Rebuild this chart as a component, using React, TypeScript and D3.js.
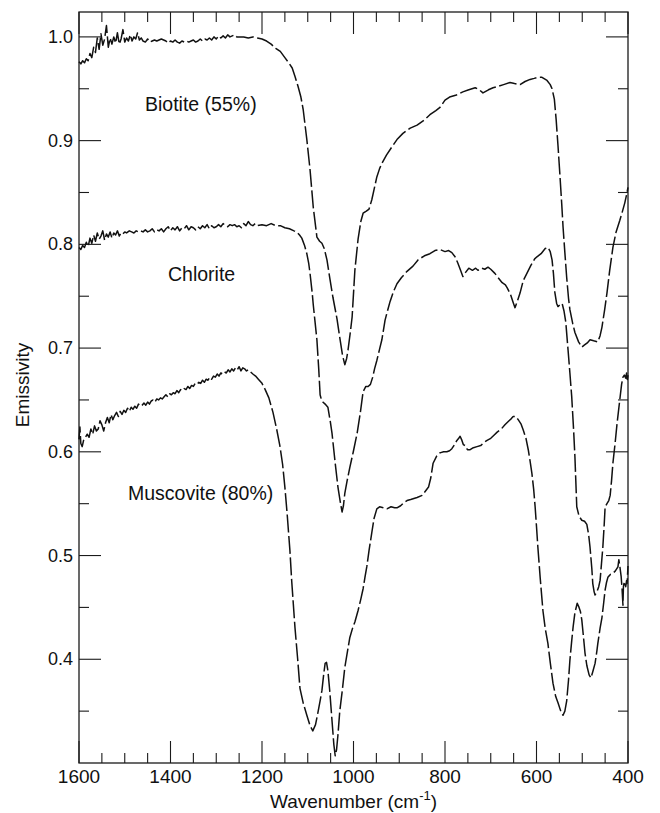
import React from "react";
import * as d3 from "d3";

// Emissivity spectra of three sheet silicates: [wavenumber (cm-1), emissivity]
const biotite: [number, number][] = [
  [1600, 0.976], [1596, 0.974], [1592, 0.977], [1588, 0.975], [1584, 0.979], [1580, 0.977],
  [1576, 0.984], [1572, 0.98], [1568, 0.99], [1564, 0.985], [1560, 0.999], [1556, 0.988],
  [1552, 1.003], [1548, 0.992], [1544, 0.998], [1540, 1.011], [1536, 0.99], [1532, 0.999],
  [1528, 0.993], [1524, 1.0], [1520, 0.994], [1516, 1.004], [1512, 0.993], [1508, 0.998],
  [1504, 1.007], [1500, 0.995], [1496, 0.999], [1492, 0.996], [1488, 1.002], [1484, 0.996],
  [1480, 1.0], [1476, 0.998], [1472, 1.004], [1468, 0.997], [1464, 0.999], [1460, 0.996],
  [1455, 0.995], [1450, 0.998], [1445, 0.995], [1440, 0.996], [1435, 0.997], [1430, 0.996],
  [1425, 0.997], [1420, 0.998], [1415, 0.997], [1410, 0.996], [1405, 0.994], [1400, 0.996],
  [1395, 0.995], [1390, 0.997], [1385, 0.995], [1380, 0.994], [1375, 0.996], [1370, 0.995],
  [1365, 0.996], [1360, 0.995], [1355, 0.996], [1350, 0.997], [1345, 0.995], [1340, 0.996],
  [1335, 0.998], [1330, 0.996], [1325, 0.998], [1320, 0.997], [1315, 0.999], [1310, 0.997],
  [1305, 1.0], [1300, 0.998], [1295, 1.001], [1290, 0.999], [1285, 1.001], [1280, 0.999],
  [1275, 1.002], [1270, 1.0], [1265, 1.001], [1260, 1.002], [1255, 1.0], [1250, 1.0],
  [1240, 1.0], [1230, 0.999], [1220, 1.0], [1210, 0.999], [1200, 0.998], [1190, 0.996],
  [1180, 0.993], [1170, 0.989], [1160, 0.986], [1150, 0.98], [1140, 0.974], [1134, 0.97],
  [1128, 0.962], [1121, 0.952], [1115, 0.942], [1110, 0.93], [1102, 0.901], [1095, 0.872],
  [1088, 0.836], [1080, 0.807], [1074, 0.803], [1069, 0.801], [1064, 0.796], [1058, 0.785],
  [1052, 0.768], [1045, 0.749], [1036, 0.728], [1030, 0.71], [1024, 0.693], [1019, 0.684],
  [1015, 0.69], [1012, 0.698], [1007, 0.715], [1003, 0.73], [997, 0.775], [990, 0.805],
  [984, 0.822], [979, 0.83], [972, 0.832], [966, 0.834], [960, 0.843], [955, 0.853],
  [949, 0.865], [943, 0.873], [938, 0.878], [928, 0.886], [916, 0.894], [905, 0.901],
  [892, 0.907], [876, 0.912], [861, 0.915], [845, 0.92], [833, 0.925], [820, 0.929],
  [811, 0.932], [800, 0.939], [790, 0.942], [775, 0.944], [761, 0.947], [748, 0.949],
  [734, 0.951], [725, 0.949], [717, 0.946], [705, 0.949], [695, 0.951], [686, 0.952],
  [672, 0.954], [658, 0.956], [648, 0.955], [636, 0.954], [625, 0.957], [614, 0.959],
  [605, 0.96], [597, 0.961], [588, 0.961], [577, 0.958], [570, 0.954], [566, 0.95],
  [561, 0.94], [557, 0.92], [553, 0.895], [549, 0.868], [545, 0.84], [542, 0.817],
  [538, 0.792], [534, 0.768], [530, 0.748], [527, 0.737], [521, 0.724], [516, 0.715],
  [508, 0.706], [501, 0.701], [495, 0.703], [489, 0.705], [483, 0.708], [475, 0.707],
  [466, 0.706], [461, 0.712], [457, 0.72], [451, 0.737], [446, 0.753], [440, 0.775],
  [433, 0.797], [426, 0.812], [418, 0.823], [412, 0.832], [407, 0.84], [403, 0.848],
  [400, 0.855],
];

const chlorite: [number, number][] = [
  [1600, 0.797], [1596, 0.795], [1592, 0.799], [1588, 0.797], [1584, 0.802], [1580, 0.798],
  [1576, 0.806], [1572, 0.801], [1568, 0.809], [1564, 0.803], [1560, 0.811], [1556, 0.805],
  [1552, 0.808], [1548, 0.813], [1544, 0.804], [1540, 0.81], [1536, 0.807], [1532, 0.812],
  [1528, 0.806], [1524, 0.811], [1520, 0.809], [1516, 0.813], [1512, 0.808], [1508, 0.811],
  [1504, 0.81], [1500, 0.812], [1496, 0.811], [1490, 0.813], [1485, 0.812], [1480, 0.811],
  [1475, 0.813], [1470, 0.812], [1465, 0.813], [1460, 0.812], [1455, 0.814], [1450, 0.812],
  [1445, 0.813], [1440, 0.815], [1435, 0.812], [1430, 0.814], [1425, 0.813], [1420, 0.815],
  [1415, 0.812], [1410, 0.815], [1405, 0.817], [1400, 0.813], [1395, 0.816], [1390, 0.814],
  [1385, 0.817], [1380, 0.813], [1375, 0.816], [1370, 0.815], [1365, 0.818], [1360, 0.814],
  [1355, 0.817], [1350, 0.816], [1345, 0.814], [1340, 0.817], [1335, 0.815], [1330, 0.818],
  [1325, 0.816], [1320, 0.819], [1315, 0.815], [1310, 0.818], [1305, 0.816], [1300, 0.817],
  [1295, 0.819], [1290, 0.817], [1285, 0.82], [1280, 0.818], [1275, 0.817], [1270, 0.819],
  [1265, 0.818], [1260, 0.819], [1255, 0.817], [1250, 0.818], [1245, 0.816], [1240, 0.82],
  [1235, 0.818], [1230, 0.822], [1225, 0.819], [1220, 0.818], [1215, 0.82], [1210, 0.818],
  [1200, 0.819], [1190, 0.818], [1180, 0.82], [1170, 0.818], [1160, 0.818], [1150, 0.816],
  [1140, 0.815], [1130, 0.813], [1124, 0.812], [1118, 0.809], [1113, 0.806], [1107, 0.799],
  [1102, 0.791], [1098, 0.782], [1095, 0.772], [1090, 0.752], [1088, 0.742], [1084, 0.725],
  [1080, 0.708], [1076, 0.68], [1073, 0.655], [1070, 0.65], [1067, 0.648], [1062, 0.646],
  [1056, 0.643], [1051, 0.63], [1047, 0.618], [1040, 0.589], [1034, 0.566], [1029, 0.552],
  [1025, 0.542], [1022, 0.548], [1019, 0.56], [1014, 0.572], [1008, 0.585], [1000, 0.601],
  [992, 0.618], [985, 0.638], [979, 0.658], [973, 0.663], [968, 0.663], [963, 0.665],
  [958, 0.672], [954, 0.68], [949, 0.688], [943, 0.699], [938, 0.708], [931, 0.727],
  [925, 0.737], [920, 0.745], [913, 0.754], [905, 0.762], [895, 0.768], [883, 0.774],
  [870, 0.779], [859, 0.785], [845, 0.789], [833, 0.791], [822, 0.794], [811, 0.795],
  [800, 0.793], [792, 0.794], [785, 0.792], [778, 0.788], [772, 0.782], [766, 0.775],
  [761, 0.769], [755, 0.773], [748, 0.777], [740, 0.775], [733, 0.777], [728, 0.775],
  [720, 0.777], [713, 0.776], [706, 0.778], [700, 0.776], [691, 0.772], [684, 0.768],
  [675, 0.763], [668, 0.761], [664, 0.758], [657, 0.752], [651, 0.744], [647, 0.739],
  [642, 0.745], [636, 0.753], [629, 0.765], [621, 0.772], [612, 0.78], [604, 0.786],
  [599, 0.788], [590, 0.791], [581, 0.796], [575, 0.797], [570, 0.793], [566, 0.785],
  [563, 0.772], [560, 0.754], [556, 0.743], [553, 0.74], [548, 0.742], [544, 0.743],
  [540, 0.736], [536, 0.725], [531, 0.698], [527, 0.676], [523, 0.653], [519, 0.622],
  [516, 0.595], [512, 0.547], [507, 0.538], [501, 0.534], [495, 0.533], [490, 0.53],
  [486, 0.52], [483, 0.508], [479, 0.487], [477, 0.473], [474, 0.465], [472, 0.462],
  [468, 0.465], [464, 0.47], [461, 0.476], [458, 0.492], [455, 0.508], [452, 0.53],
  [450, 0.547], [446, 0.55], [442, 0.553], [439, 0.558], [436, 0.572], [433, 0.589],
  [428, 0.609], [424, 0.627], [418, 0.65], [414, 0.665], [411, 0.672], [408, 0.674],
  [405, 0.671], [403, 0.676], [402, 0.668], [400, 0.674],
];

const muscovite: [number, number][] = [
  [1600, 0.612], [1598, 0.624], [1596, 0.608], [1593, 0.605], [1590, 0.611], [1586, 0.614],
  [1582, 0.617], [1578, 0.614], [1574, 0.622], [1570, 0.617], [1566, 0.625], [1562, 0.62],
  [1558, 0.622], [1554, 0.63], [1550, 0.626], [1546, 0.62], [1542, 0.628], [1538, 0.633],
  [1534, 0.628], [1530, 0.636], [1526, 0.631], [1522, 0.635], [1518, 0.638], [1514, 0.634],
  [1510, 0.639], [1506, 0.636], [1502, 0.64], [1498, 0.638], [1494, 0.642], [1490, 0.639],
  [1486, 0.643], [1482, 0.641], [1478, 0.644], [1474, 0.642], [1470, 0.646], [1466, 0.644],
  [1462, 0.645], [1458, 0.647], [1454, 0.645], [1450, 0.648], [1446, 0.646], [1442, 0.649],
  [1438, 0.65], [1434, 0.648], [1430, 0.651], [1426, 0.65], [1422, 0.652], [1418, 0.651],
  [1414, 0.653], [1410, 0.655], [1406, 0.653], [1402, 0.656], [1398, 0.655], [1394, 0.657],
  [1390, 0.656], [1386, 0.659], [1382, 0.657], [1378, 0.66], [1374, 0.659], [1370, 0.661],
  [1366, 0.66], [1362, 0.663], [1358, 0.661], [1354, 0.664], [1350, 0.663], [1346, 0.666],
  [1342, 0.665], [1338, 0.667], [1334, 0.666], [1330, 0.669], [1326, 0.667], [1322, 0.67],
  [1318, 0.669], [1314, 0.672], [1310, 0.67], [1306, 0.673], [1302, 0.672], [1298, 0.675],
  [1294, 0.673], [1290, 0.676], [1286, 0.675], [1282, 0.677], [1278, 0.676], [1274, 0.679],
  [1270, 0.677], [1266, 0.68], [1262, 0.678], [1258, 0.681], [1254, 0.679], [1250, 0.682],
  [1246, 0.678], [1242, 0.681], [1238, 0.68], [1234, 0.678], [1230, 0.679], [1225, 0.677],
  [1220, 0.675], [1214, 0.673], [1208, 0.67], [1200, 0.666], [1193, 0.66], [1185, 0.652],
  [1176, 0.638], [1168, 0.622], [1161, 0.606], [1155, 0.588], [1150, 0.566], [1145, 0.54],
  [1139, 0.505], [1135, 0.475], [1128, 0.431], [1122, 0.4], [1117, 0.372], [1110, 0.358],
  [1102, 0.346], [1095, 0.336], [1089, 0.331], [1083, 0.337], [1078, 0.348], [1073, 0.36],
  [1069, 0.37], [1065, 0.386], [1062, 0.396], [1059, 0.397], [1056, 0.389], [1052, 0.37],
  [1047, 0.341], [1043, 0.318], [1040, 0.307], [1037, 0.313], [1034, 0.327], [1030, 0.35],
  [1025, 0.368], [1019, 0.392], [1013, 0.408], [1008, 0.421], [1002, 0.43], [997, 0.436],
  [990, 0.447], [984, 0.458], [979, 0.468], [975, 0.479], [971, 0.489], [966, 0.505],
  [960, 0.522], [955, 0.536], [949, 0.545], [943, 0.547], [935, 0.546], [927, 0.545],
  [918, 0.547], [910, 0.546], [905, 0.546], [897, 0.548], [890, 0.551], [883, 0.553],
  [875, 0.554], [868, 0.555], [861, 0.556], [850, 0.558], [843, 0.562], [836, 0.566],
  [831, 0.575], [826, 0.589], [818, 0.596], [811, 0.599], [803, 0.6], [796, 0.6],
  [790, 0.601], [785, 0.603], [779, 0.607], [774, 0.611], [770, 0.613], [767, 0.615],
  [763, 0.611], [760, 0.607], [756, 0.606], [751, 0.602], [745, 0.602], [738, 0.604],
  [730, 0.605], [722, 0.606], [715, 0.609], [708, 0.611], [700, 0.613], [693, 0.616],
  [686, 0.619], [677, 0.622], [669, 0.626], [660, 0.63], [655, 0.632], [651, 0.634],
  [645, 0.634], [640, 0.631], [634, 0.627], [629, 0.621], [623, 0.613], [618, 0.602],
  [614, 0.591], [610, 0.579], [606, 0.563], [603, 0.547], [600, 0.528], [597, 0.508],
  [592, 0.479], [586, 0.447], [581, 0.43], [575, 0.415], [570, 0.397], [564, 0.377],
  [558, 0.364], [553, 0.358], [547, 0.35], [542, 0.346], [538, 0.35], [534, 0.36],
  [530, 0.38], [527, 0.399], [523, 0.418], [520, 0.431], [516, 0.445], [511, 0.454],
  [507, 0.45], [504, 0.446], [501, 0.438], [497, 0.42], [494, 0.406], [490, 0.394],
  [485, 0.385], [481, 0.382], [477, 0.388], [472, 0.396], [468, 0.408], [466, 0.415],
  [461, 0.43], [457, 0.44], [453, 0.455], [450, 0.467], [447, 0.474], [444, 0.479],
  [438, 0.482], [433, 0.483], [428, 0.485], [422, 0.489], [420, 0.496], [418, 0.49],
  [415, 0.48], [413, 0.468], [411, 0.452], [410, 0.47], [408, 0.475], [405, 0.47],
  [403, 0.476], [402, 0.473], [400, 0.49],
];

const seriesLabels = ["Biotite (55%)", "Chlorite", "Muscovite (80%)"];
const xTickValues = [1600, 1400, 1200, 1000, 800, 600, 400];
const yTickValues = [0.4, 0.5, 0.6, 0.7, 0.8, 0.9, 1.0];

const W = 660;
const H = 813;
const M = { left: 79, right: 628, top: 12, bottom: 763 };
const FONT = "'Liberation Sans', Arial, Helvetica, sans-serif";

export default function App() {
  const x = d3.scaleLinear().domain([1600, 400]).range([M.left, M.right]);
  const y = d3.scaleLinear().domain([0.3, 1.024]).range([M.bottom, M.top]);

  const line = d3
    .line<[number, number]>()
    .x((d) => x(d[0]))
    .y((d) => y(d[1]))
    .curve(d3.curveLinear);

  const xMinor = d3.range(1600, 399, -50);
  const yMinor = d3.range(0.35, 1.02, 0.05).map((v) => Math.round(v * 100) / 100);
  const isMajorX = (v: number) => v % 200 === 0;
  const isMajorY = (v: number) => Math.abs(v * 10 - Math.round(v * 10)) < 1e-6;

  const tickStroke = "#1a1a1a";
  const curves = [biotite, chlorite, muscovite];
  const labelPos: [number, number][] = [
    [145, 111],
    [168, 281],
    [128, 500],
  ];

  return (
    <svg
      width={W}
      height={H}
      style={{ position: "absolute", left: 0, top: 0, background: "#fff" }}
      fontFamily={FONT}
    >
      <rect x={0} y={0} width={W} height={H} fill="#fff" />
      {/* frame */}
      <rect
        x={M.left}
        y={M.top}
        width={M.right - M.left}
        height={M.bottom - M.top}
        fill="none"
        stroke={tickStroke}
        strokeWidth={1.3}
      />
      {/* x ticks, bottom and top, pointing inward */}
      {xMinor.map((v) => {
        const len = isMajorX(v) ? 22 : 10;
        const xx = x(v);
        return (
          <g key={"xt" + v}>
            <line x1={xx} x2={xx} y1={M.bottom} y2={M.bottom - len} stroke={tickStroke} strokeWidth={1.1} />
            <line x1={xx} x2={xx} y1={M.top} y2={M.top + len} stroke={tickStroke} strokeWidth={1.1} />
          </g>
        );
      })}
      {/* y ticks, left and right, pointing inward */}
      {yMinor.map((v) => {
        const len = isMajorY(v) ? 22 : 10;
        const yy = y(v);
        return (
          <g key={"yt" + v}>
            <line x1={M.left} x2={M.left + len} y1={yy} y2={yy} stroke={tickStroke} strokeWidth={1.1} />
            <line x1={M.right} x2={M.right - len} y1={yy} y2={yy} stroke={tickStroke} strokeWidth={1.1} />
          </g>
        );
      })}
      {xTickValues.map((v) => (
        <text key={"xl" + v} x={x(v)} y={783} textAnchor="middle" fontSize={19} fill="#111">
          {v}
        </text>
      ))}
      {yTickValues.map((v) => (
        <text key={"yl" + v} x={73} y={y(v) + 6} textAnchor="end" fontSize={18} fill="#111">
          {v.toFixed(1)}
        </text>
      ))}
      <text x={(M.left + M.right) / 2} y={808} textAnchor="middle" fontSize={19} fill="#111">
        Wavenumber (cm
        <tspan fontSize={13} dy={-8}>-1</tspan>
        <tspan dy={8}>)</tspan>
      </text>
      <text
        transform={`translate(29, 385) rotate(-90)`}
        textAnchor="middle"
        fontSize={19}
        fill="#111"
      >
        Emissivity
      </text>
      {/* spectra */}
      {curves.map((c, i) => (
        <path
          key={"c" + i}
          d={line(c) || ""}
          fill="none"
          stroke="#111"
          strokeWidth={1.5}
          strokeDasharray="18 3.5"
          strokeLinejoin="round"
        />
      ))}
      {seriesLabels.map((t, i) => (
        <text key={"sl" + i} x={labelPos[i][0]} y={labelPos[i][1]} fontSize={19.5} fill="#111">
          {t}
        </text>
      ))}
    </svg>
  );
}
